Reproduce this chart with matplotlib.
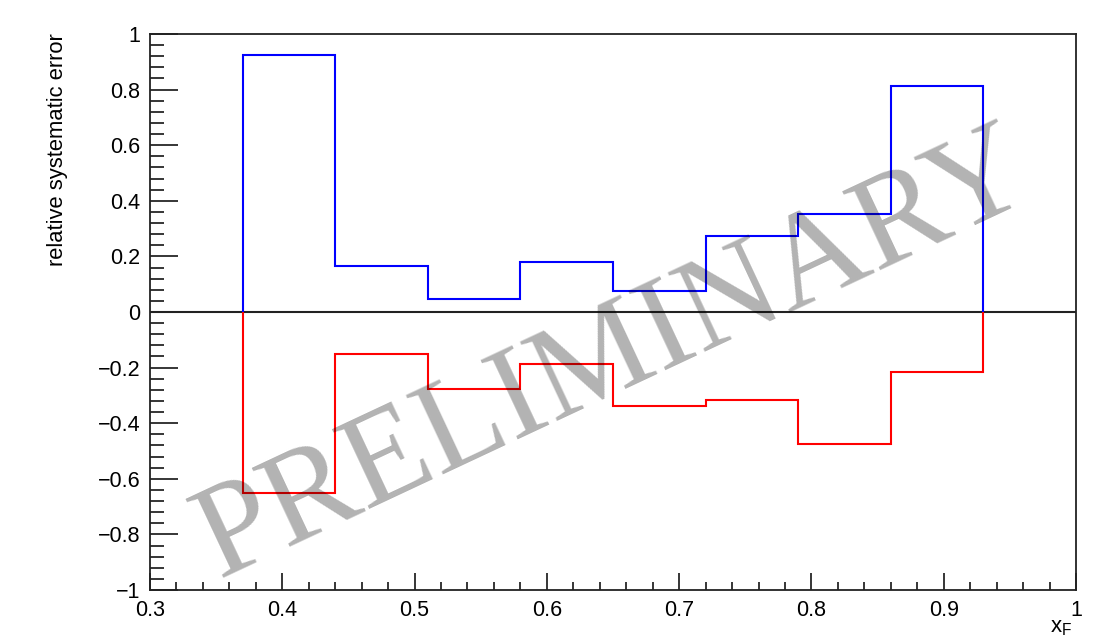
import matplotlib
matplotlib.use("Agg")
import matplotlib.pyplot as plt
from matplotlib.ticker import MultipleLocator, FuncFormatter

bin_edges = [0.37, 0.44, 0.51, 0.58, 0.65, 0.72, 0.79, 0.86, 0.93]
upper_err = [0.923, 0.164, 0.048, 0.179, 0.074, 0.274, 0.351, 0.812]
lower_err = [-0.652, -0.151, -0.277, -0.186, -0.337, -0.318, -0.474, -0.217]
y_label = "relative systematic error"
watermark = "PRELIMINARY"

W, H = 1102, 637
fig = plt.figure(figsize=(W / 100, H / 100), dpi=100)
ax = fig.add_axes([150 / W, 1 - 590 / H, (1076 - 150) / W, (590 - 34) / H])

sans = ["Liberation Sans", "DejaVu Sans"]

ax.stairs(upper_err, bin_edges, baseline=0, color="#0000ff", lw=1.5, zorder=3)
ax.stairs(lower_err, bin_edges, baseline=0, color="#ff0000", lw=1.5, zorder=3)
ax.axhline(0, color="#222222", lw=1.5, zorder=2)

ax.set_xlim(0.3, 1.0)
ax.set_ylim(-1, 1)

ax.xaxis.set_major_locator(MultipleLocator(0.1))
ax.xaxis.set_minor_locator(MultipleLocator(0.02))
ax.yaxis.set_major_locator(MultipleLocator(0.2))
ax.yaxis.set_minor_locator(MultipleLocator(0.04))

def fmt(v, pos):
    if abs(v) < 1e-9:
        return "0"
    s = ("%.1f" % v).rstrip("0").rstrip(".")
    return s.replace("-", "\u2212")

ax.xaxis.set_major_formatter(FuncFormatter(fmt))
ax.yaxis.set_major_formatter(FuncFormatter(fmt))

ax.tick_params(axis="y", which="major", direction="in", length=20, width=1.1,
               left=True, right=False, pad=7, labelsize=15.5)
ax.tick_params(axis="y", which="minor", direction="in", length=10, width=1.1,
               left=True, right=False)
ax.tick_params(axis="x", which="major", direction="in", length=12, width=1.1,
               bottom=True, top=False, pad=7, labelsize=15.5)
ax.tick_params(axis="x", which="minor", direction="in", length=6, width=1.1,
               bottom=True, top=False)
for lab in ax.get_xticklabels() + ax.get_yticklabels():
    lab.set_family(sans)
for sp in ax.spines.values():
    sp.set_linewidth(1.3)
    sp.set_color("#222222")

fig.text(58 / W, 1 - 33 / H, y_label, rotation=90, ha="center", va="top",
         fontsize=15.8, family=sans)
fig.text(1072 / W, 1 - 617 / H, r"$\mathregular{x_F}$", ha="right", va="top",
         fontsize=16, family=sans)

ax.text(0.661, -0.266, watermark, rotation=25.1, rotation_mode="anchor",
        ha="center", va="baseline", fontsize=96, family=["Liberation Serif", "DejaVu Serif"],
        color="black", alpha=0.3, zorder=5)

fig.savefig("out.png", dpi=100)
